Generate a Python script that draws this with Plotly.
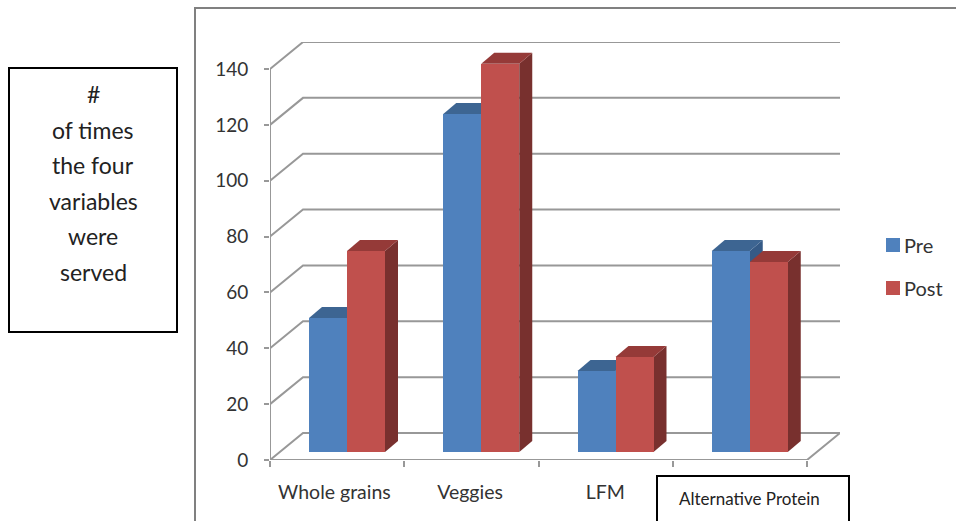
import plotly.graph_objects as go

categories = ["Whole grains", "Veggies", "LFM", "Alternative Protein"]
series_names = ["Pre", "Post"]
pre = [48, 121, 29, 72]
post = [72, 139, 34, 68]
y_ticks = [0, 20, 40, 60, 80, 100, 120, 140]
box_lines = ["#", "of times", "the four", "variables", "were", "served"]

W, H = 956, 521
X0, X1 = 270, 840      # plot area px
Y0, Y1 = 460, 42
PX_CAT = 134.25
PX_VAL = 391 / 140
xmax = (X1 - X0) / PX_CAT
ymax = (Y0 - Y1) / PX_VAL

wall_dx, wall_dy = 33 / PX_CAT, 27 / PX_VAL
depth_dx, depth_dy = 13 / PX_CAT, 11 / PX_VAL
bar_w = 38 / PX_CAT
bar_start = 39 / PX_CAT
base = 8 / PX_VAL

BLUE, BLUE_TOP, BLUE_SIDE = "#4F81BD", "#3D6592", "#355A86"
RED, RED_TOP, RED_SIDE = "#C0504D", "#953A38", "#78302E"
GRID = "#989898"
FONT = "Lato, Carlito, sans-serif"
n = len(categories)

fig = go.Figure()

gx, gy = [], []
for t in y_ticks:
    gx += [0, wall_dx, n + wall_dx, None]
    gy += [t, t + wall_dy, t + wall_dy, None]
gx += [0, 0, None, 0, n, n + wall_dx, None]
gy += [0, y_ticks[-1], None, 0, 0, wall_dy, None]
fig.add_trace(go.Scatter(x=gx, y=gy, mode="lines", line=dict(color=GRID, width=2),
                         showlegend=False, hoverinfo="skip", xaxis="x", yaxis="y", cliponaxis=False))


def depth(values, offset, top, side):
    for i, v in enumerate(values):
        left = i + bar_start + offset
        right = left + bar_w
        fig.add_trace(go.Scatter(
            x=[right, right + depth_dx, right + depth_dx, right, right],
            y=[base, base + depth_dy, v + base + depth_dy, v + base, base],
            fill="toself", fillcolor=side, mode="lines", line=dict(width=0),
            showlegend=False, hoverinfo="skip", xaxis="x", yaxis="y"))
        fig.add_trace(go.Scatter(
            x=[left, left + depth_dx, right + depth_dx, right, left],
            y=[v + base, v + base + depth_dy, v + base + depth_dy, v + base, v + base],
            fill="toself", fillcolor=top, mode="lines", line=dict(width=0),
            showlegend=False, hoverinfo="skip", xaxis="x", yaxis="y"))


depth(pre, 0, BLUE_TOP, BLUE_SIDE)
depth(post, bar_w, RED_TOP, RED_SIDE)

xs = list(range(n))
fig.add_trace(go.Bar(name=series_names[0], x=[i + bar_start + bar_w / 2 for i in xs], y=pre, base=base,
                     width=bar_w, marker=dict(color=BLUE, line=dict(width=0)),
                     xaxis="x2", yaxis="y2", showlegend=False))
fig.add_trace(go.Bar(name=series_names[1], x=[i + bar_start + 1.5 * bar_w for i in xs], y=post, base=base,
                     width=bar_w, marker=dict(color=RED, line=dict(width=0)),
                     xaxis="x2", yaxis="y2", showlegend=False))

shapes = [
    dict(type="line", xref="paper", yref="paper", x0=195 / W, x1=195 / W, y0=0, y1=1 - 8 / H,
         line=dict(color="#808080", width=2)),
    dict(type="line", xref="paper", yref="paper", x0=194 / W, x1=1, y0=1 - 8 / H, y1=1 - 8 / H,
         line=dict(color="#808080", width=2)),
    dict(type="rect", xref="paper", yref="paper", x0=9 / W, x1=177 / W, y0=1 - 332 / H, y1=1 - 68 / H,
         line=dict(color="black", width=2), fillcolor="white"),
    dict(type="rect", xref="paper", yref="paper", x0=657 / W, x1=849 / W, y0=-0.02, y1=1 - 476 / H,
         line=dict(color="black", width=2), fillcolor="white"),
    dict(type="rect", xref="paper", yref="paper", x0=886 / W, x1=900 / W, y0=1 - 252 / H, y1=1 - 238 / H,
         line=dict(width=0), fillcolor=BLUE),
    dict(type="rect", xref="paper", yref="paper", x0=886 / W, x1=900 / W, y0=1 - 295 / H, y1=1 - 281 / H,
         line=dict(width=0), fillcolor=RED),
]

annotations = []
for line, py in zip(box_lines, [94, 130, 165, 201, 236, 272]):
    annotations.append(dict(text=line, xref="paper", yref="paper", x=93 / W, y=1 - py / H,
                            showarrow=False, xanchor="center", yanchor="middle",
                            font=dict(family=FONT, size=23, color="#222222")))
annotations.append(dict(text=categories[3], xref="paper", yref="paper", x=749 / W, y=1 - 498 / H,
                        showarrow=False, xanchor="center", yanchor="middle",
                        font=dict(family=FONT, size=17, color="#222222")))
for name, py in zip(series_names, [245, 288]):
    annotations.append(dict(text=name, xref="paper", yref="paper", x=903 / W, y=1 - py / H,
                            showarrow=False, xanchor="left", yanchor="middle", xshift=-1,
                            font=dict(family=FONT, size=20, color="#333333")))

fig.update_layout(
    width=W, height=H, autosize=False,
    margin=dict(l=0, r=0, t=0, b=0, pad=0, autoexpand=False),
    paper_bgcolor="white", plot_bgcolor="rgba(0,0,0,0)",
    barmode="overlay", bargap=0,
    font=dict(family=FONT, color="#333333"),
    shapes=shapes, annotations=annotations,
    showlegend=False,
    xaxis=dict(domain=[X0 / W, X1 / W], range=[0, xmax], showgrid=False, zeroline=False,
               showline=False, tickmode="array",
               tickvals=[0.48, 1.49, 2.497], ticktext=categories[:3],
               ticks="", ticklabelstandoff=18, tickfont=dict(family=FONT, size=19.5, color="#333333"),
               minor=dict(tickmode="array", tickvals=list(range(n + 1)), ticks="outside",
                          ticklen=6, tickwidth=2, tickcolor=GRID)),
    yaxis=dict(domain=[1 - Y0 / H, 1 - Y1 / H], range=[0, ymax], showgrid=False, zeroline=False,
               showline=False, tickmode="array", tickvals=y_ticks, ticks="outside",
               ticklen=5, tickwidth=2, tickcolor=GRID, ticklabelstandoff=12,
               tickfont=dict(family=FONT, size=19, color="#333333")),
    xaxis2=dict(overlaying="x", matches="x", visible=False),
    yaxis2=dict(overlaying="y", matches="y", visible=False),
)

fig.write_html("out.html", config={"displayModeBar": False}, default_width="956px", default_height="521px",
               post_script="document.body.style.margin='0';document.documentElement.style.overflow='hidden';")
